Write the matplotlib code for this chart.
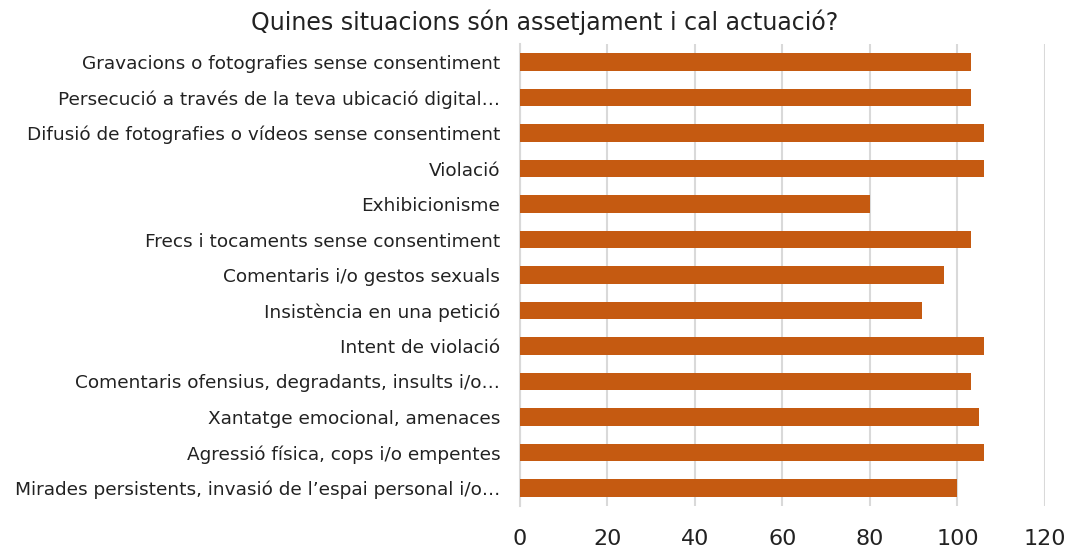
import matplotlib.pyplot as plt

plt.rcParams['font.family'] = ['DejaVu Sans']

categories = [
    "Gravacions o fotografies sense consentiment",
    "Persecució a través de la teva ubicació digital…",
    "Difusió de fotografies o vídeos sense consentiment",
    "Violació",
    "Exhibicionisme",
    "Frecs i tocaments sense consentiment",
    "Comentaris i/o gestos sexuals",
    "Insistència en una petició",
    "Intent de violació",
    "Comentaris ofensius, degradants, insults i/o…",
    "Xantatge emocional, amenaces",
    "Agressió física, cops i/o empentes",
    "Mirades persistents, invasió de l’espai personal i/o…",
]
values = [103, 103, 106, 106, 80, 103, 97, 92, 106, 103, 105, 106, 100]
xticks = [0, 20, 40, 60, 80, 100, 120]

fig = plt.figure(figsize=(10.74, 5.5), dpi=100)
ax = fig.add_axes([0.484, 0.0805, 0.489, 0.839])

pos = list(range(len(categories)))[::-1]
ax.barh(pos, values, height=0.5, color='#C55A11', zorder=3)

ax.set_xlim(0, 120)
ax.set_ylim(-0.5, len(categories) - 0.5)
ax.set_xticks(xticks)
ax.set_yticks(pos)
ax.set_yticklabels(categories, fontsize=13.3, color='#222222')
ax.tick_params(axis='x', labelsize=16, length=0, pad=17, colors='#222222')
ax.tick_params(axis='y', length=0, pad=14)
ax.grid(axis='x', color='#d9d9d9', linewidth=1.5, zorder=0)
for s in ['top', 'right', 'bottom']:
    ax.spines[s].set_visible(False)
ax.spines['left'].set_color('#d9d9d9')
ax.spines['left'].set_linewidth(1.5)

fig.text(0.507, 0.96, "Quines situacions són assetjament i cal actuació?",
         ha='center', va='center', fontsize=17, color='#222222')

fig.savefig('out.png', dpi=100)
